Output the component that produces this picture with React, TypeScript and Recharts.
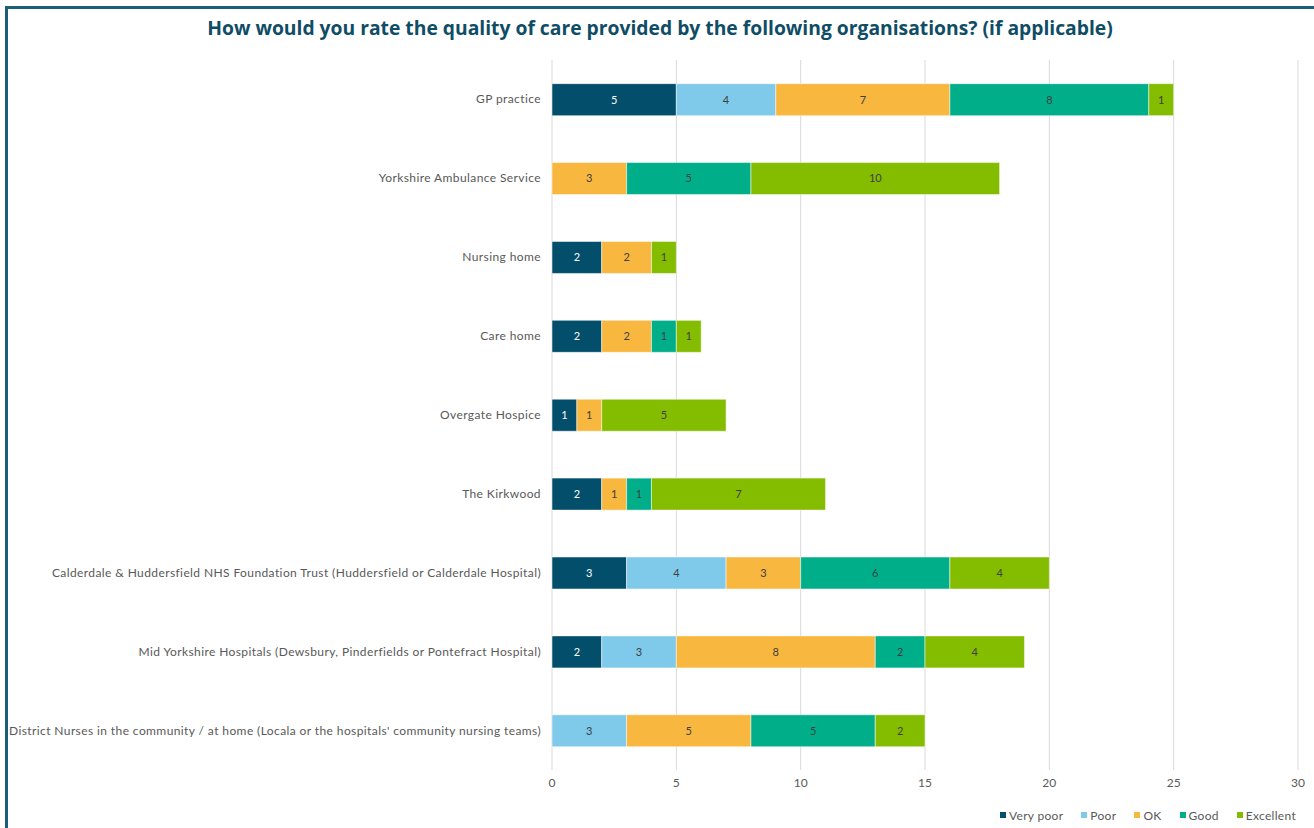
import { Bar, BarChart, CartesianGrid, LabelList, Legend, XAxis, YAxis } from 'recharts'

const TITLE = "How would you rate the quality of care provided by the following organisations? (if applicable)"

const categories = [
  "GP practice",
  "Yorkshire Ambulance Service",
  "Nursing home",
  "Care home",
  "Overgate Hospice",
  "The Kirkwood",
  "Calderdale & Huddersfield NHS Foundation Trust (Huddersfield or Calderdale Hospital)",
  "Mid Yorkshire Hospitals (Dewsbury, Pinderfields or Pontefract Hospital)",
  "District Nurses in the community / at home (Locala or the hospitals' community nursing teams)",
]

// null = no responses (no segment drawn)
const veryPoor = [5, null, 2, 2, 1, 2, 3, 2, null]
const poor = [4, null, null, null, null, null, 4, 3, 3]
const ok = [7, 3, 2, 2, 1, 1, 3, 8, 5]
const good = [8, 5, null, 1, null, 1, 6, 2, 5]
const excellent = [1, 10, 1, 1, 5, 7, 4, 4, 2]

const xTicks = [0, 5, 10, 15, 20, 25, 30]

const series = [
  { key: "Very poor", values: veryPoor, color: "#034e6a", text: "#ffffff" },
  { key: "Poor", values: poor, color: "#7fcaea", text: "#404040" },
  { key: "OK", values: ok, color: "#f8b73e", text: "#404040" },
  { key: "Good", values: good, color: "#00af8a", text: "#404040" },
  { key: "Excellent", values: excellent, color: "#84bc00", text: "#404040" },
]

const data = categories.map((name, i) => {
  const row: any = { name }
  series.forEach(s => { row[s.key] = s.values[i] })
  return row
})

const FONT = "Lato, 'Open Sans', sans-serif"

// single-line category label (the default tick wraps long names)
function CategoryTick(props: any) {
  const { x, y, payload } = props
  return (
    <text x={x} y={y} dy={4} textAnchor="end" fill="#595959" fontSize={12} fontFamily={FONT} letterSpacing={0.4}>
      {payload.value}
    </text>
  )
}

function LegendBox() {
  return (
    <div style={{ display: "flex", justifyContent: "flex-end", height: 20, alignItems: "center", paddingRight: 2, fontFamily: FONT, fontSize: 12, color: "#595959", letterSpacing: 0.3 }}>
      {series.map(s => (
        <div key={s.key} style={{ display: "flex", alignItems: "center", marginLeft: 18 }}>
          <span style={{ width: 6, height: 6, background: s.color, display: "inline-block", marginRight: 3 }} />
          {s.key}
        </div>
      ))}
    </div>
  )
}

export default function App() {
  return (
    <div style={{ position: "absolute", left: 0, top: 0, width: 1314, height: 828, background: "#fff", overflow: "hidden" }}>
      <div style={{ position: "absolute", left: 5, top: 6, width: 1400, height: 900, borderTop: "3px solid #1b5e79", borderLeft: "3px solid #1b5e79" }} />
      <div style={{ position: "absolute", left: 0, top: 14, width: 1320, textAlign: "center", fontFamily: "'Open Sans', sans-serif", fontWeight: 700, fontSize: 19.3, color: "#0f4d66" }}>
        {TITLE}
      </div>
      <div style={{ position: "absolute", left: 0, top: 0 }}>
        <BarChart
          width={1314}
          height={828}
          data={data}
          layout="vertical"
          margin={{ top: 60, right: 16, bottom: 3, left: 0 }}
          barCategoryGap="30%"
        >
          <CartesianGrid horizontal={false} stroke="#d9d9d9" />
          <XAxis
            type="number"
            domain={[0, 30]}
            ticks={xTicks}
            axisLine={false}
            tickLine={false}
            height={35}
            tick={{ fill: "#595959", fontSize: 12, fontFamily: FONT }}
          />
          <YAxis
            type="category"
            dataKey="name"
            width={552}
            axisLine={false}
            tickLine={false}
            tickMargin={5}
            interval={0}
            tick={<CategoryTick />}
          />
          <Legend verticalAlign="bottom" content={() => <LegendBox />} />
          {series.map(s => (
            <Bar key={s.key} dataKey={s.key} stackId="a" fill={s.color} stroke="#ffffff" strokeOpacity={0.5} strokeWidth={1} isAnimationActive={false}>
              <LabelList
                dataKey={s.key}
                position="center"
                fill={s.text}
                fontSize={11}
                fontFamily={FONT}
                formatter={(v: any) => (v ? v : "")}
              />
            </Bar>
          ))}
        </BarChart>
      </div>
    </div>
  )
}
